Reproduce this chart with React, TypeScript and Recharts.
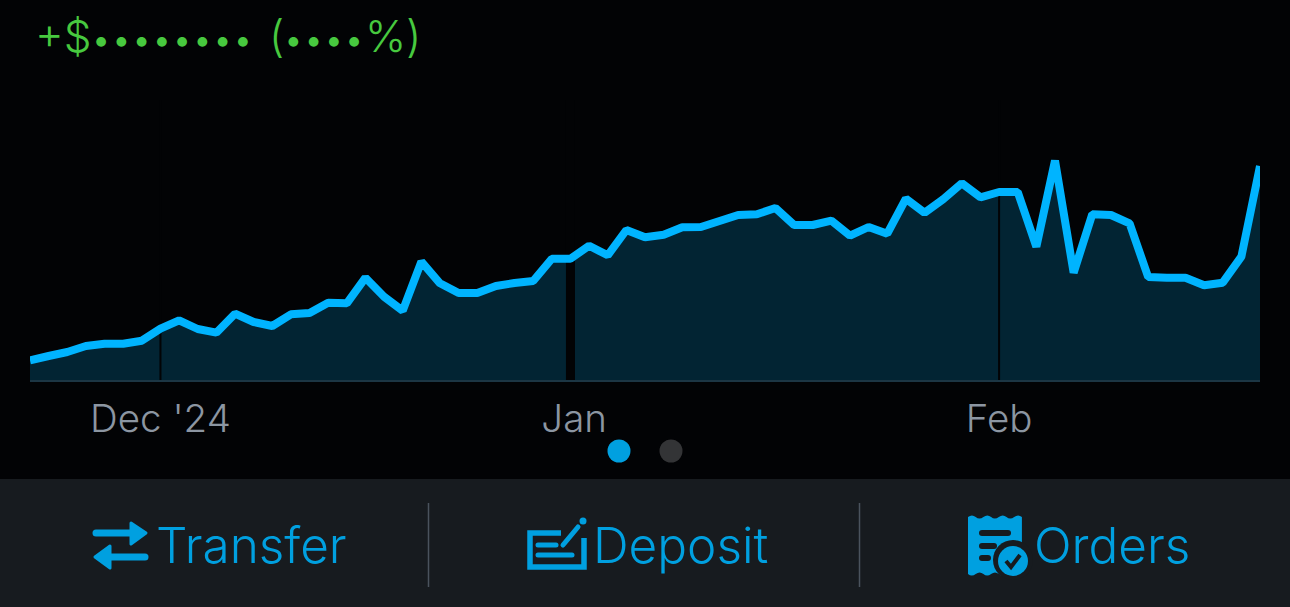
import { ComposedChart, Area, Line, XAxis, YAxis, ReferenceLine } from "recharts";

// height of the line above the baseline, one point per trading day
const values = [
  20.7, 25, 29, 35, 37.3, 37.3, 40.3, 52.3, 60.7, 52, 48.3, 67.3, 59, 55, 66.7, 68, 78.3, 77.7, 103.3, 84.3,
  70.3, 119.3, 97.7, 88, 88, 95, 98, 100, 122.3, 122.3, 135.3, 125.7, 151, 143.7, 146.3, 153.7, 154, 160, 166, 166.7,
  173, 156, 156, 160.3, 145.3, 154, 147.3, 182.3, 168.3, 181.7, 197.7, 183.7, 189, 189, 134.3, 220.3, 108.3, 166.7, 166, 157.7,
  104, 103.3, 103.3, 95.7, 98.3, 124.3, 215,
];
const monthTicks = [7, 29.2, 52];
const monthLabels = ["Dec '24", "Jan", "Feb"];
const monthGaps = [7, 29, 52];
const gapWidths = [2, 9, 2];
const actions = ["Transfer", "Deposit", "Orders"];

const data = values.map((v, i) => ({ i, v }));

const COLORS = {
  bg: "#020305",
  line: "#00b4ff",
  fill: "#022433",
  base: "#1c3644",
  tick: "#8c96a2",
  green: "#47c93f",
  bar: "#171b1f",
  sep: "#4a535d",
  action: "#00a0e0",
  dotOff: "#333436",
};

const FONT = "Inter, Roboto, sans-serif";

function Icons() {
  const c = COLORS.action;
  return (
    <>
      {/* Transfer */}
      <g fill={c} stroke={c} strokeLinejoin="round">
        <line x1={96} y1={533} x2={132} y2={533} strokeWidth={7} strokeLinecap="round" />
        <path d="M131 523 L146 533 L131 544 Z" strokeWidth={3} />
        <line x1={110} y1={557} x2={145} y2={557} strokeWidth={7} strokeLinecap="round" />
        <path d="M110 546 L95 557 L110 568 Z" strokeWidth={3} />
      </g>
      {/* Deposit */}
      <path d="M561 533 H530 V567 H584 V538" fill="none" stroke={c} strokeWidth={5.5} />
      <g stroke={c} strokeWidth={5} strokeLinecap="round">
        <line x1={538} y1={545} x2={556} y2={545} />
        <line x1={538} y1={555} x2={572} y2={555} />
        <line x1={563} y1={545} x2={578} y2={527} />
      </g>
      <circle cx={583} cy={521} r={3.5} fill={c} />
      {/* Orders */}
      <path
        d="M968 517 q4 -3 7.7 0 t7.7 0 t7.7 0 t7.7 0 t7.7 0 t7.7 0 t7.7 0 V574 q-4 3 -7.7 0 t-7.7 0 t-7.7 0 t-7.7 0 t-7.7 0 t-7.7 0 t-7.7 0 Z"
        fill={c}
      />
      <g stroke={COLORS.bar} strokeWidth={6} strokeLinecap="round">
        <line x1={982} y1={533} x2={1008} y2={533} />
        <line x1={982} y1={546} x2={994} y2={546} />
        <line x1={982} y1={558} x2={988} y2={558} />
      </g>
      <circle cx={1013} cy={560} r={20} fill={COLORS.bar} />
      <circle cx={1013} cy={561} r={15} fill={c} />
      <path d="M1006 561 L1011 567 L1020 555" fill="none" stroke={COLORS.bar} strokeWidth={4} />
    </>
  );
}

export default function App() {
  return (
    <div style={{ position: "absolute", left: 0, top: 0, width: 1290, height: 607, background: COLORS.bg, overflow: "hidden" }}>
      {/* the plot is cut at its own edges, so the line ends square on both sides */}
      <div style={{ position: "absolute", left: 30, top: 0 }}>
        <ComposedChart width={1230} height={445} data={data} margin={{ top: 100, right: 0, bottom: 0, left: 0 }}>
          <XAxis
            dataKey="i"
            type="number"
            domain={[0, values.length - 1]}
            ticks={monthTicks}
            tickFormatter={(_v, idx) => monthLabels[idx]}
            interval={0}
            height={64}
            tickLine={false}
            tickMargin={18}
            axisLine={{ stroke: COLORS.base, strokeWidth: 2 }}
            tick={{ fill: COLORS.tick, fontSize: 38.5, fontFamily: FONT, fontWeight: 350 }}
          />
          <YAxis hide domain={[0, 281]} />
          <Area
            dataKey="v"
            type="linear"
            stroke="none"
            fill={COLORS.fill}
            fillOpacity={1}
            isAnimationActive={false}
          />
          {monthGaps.map((g, i) => (
            <ReferenceLine key={g} x={g} stroke={COLORS.bg} strokeWidth={gapWidths[i]} />
          ))}
          <Line
            dataKey="v"
            type="linear"
            stroke={COLORS.line}
            strokeWidth={8}
            strokeLinejoin="bevel"
            dot={false}
            isAnimationActive={false}
          />
        </ComposedChart>
      </div>
      <svg width={1290} height={607} style={{ position: "absolute", left: 0, top: 0 }}>
        <text y={51.5} fill={COLORS.green} fontFamily={FONT} fontSize={44} fontWeight={350}>
          <tspan x={35}>+$</tspan>
          <tspan x={91} fontSize={36}>••••••••</tspan>
          <tspan x={269}>(</tspan>
          <tspan x={283.2} fontSize={36}>••••</tspan>
          <tspan x={365}>%</tspan>
          <tspan x={406}>)</tspan>
        </text>
        <circle cx={619} cy={451} r={11.5} fill={COLORS.action} />
        <circle cx={671} cy={451} r={11.5} fill={COLORS.dotOff} />
        <rect x={0} y={479} width={1290} height={128} fill={COLORS.bar} />
        <line x1={428.5} y1={503} x2={428.5} y2={587} stroke={COLORS.sep} strokeWidth={1.5} />
        <line x1={859.5} y1={503} x2={859.5} y2={587} stroke={COLORS.sep} strokeWidth={1.5} />
        <Icons />
        <g fill={COLORS.action} fontFamily={FONT} fontSize={49.5} fontWeight={340}>
          <text x={156} y={563}>{actions[0]}</text>
          <text x={593} y={563}>{actions[1]}</text>
          <text x={1034} y={563}>{actions[2]}</text>
        </g>
      </svg>
    </div>
  );
}
